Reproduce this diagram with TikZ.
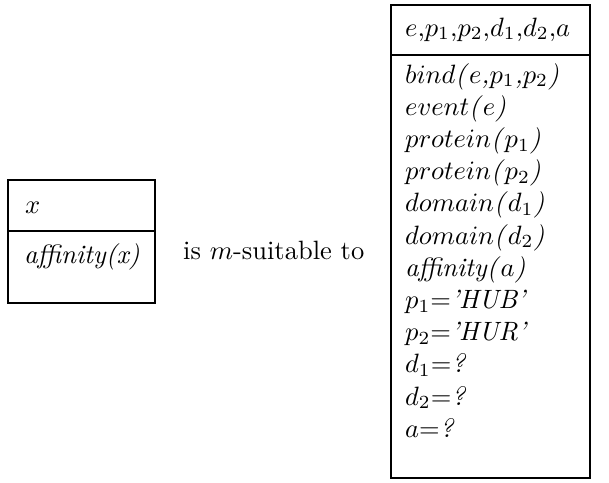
\documentclass[tikz,border=0pt]{standalone}
\newcommand{\bigtxt}[1]{\scalebox{2.65}{#1}}
\begin{document}
\begin{tikzpicture}[x=1pt,y=-1pt,
  boxline/.style={line width=2.2pt},
  divline/.style={line width=1.7pt},
  txt/.style={anchor=base west,inner sep=0pt,font=\fontsize{10}{12}\selectfont}]
\useasboundingbox (0,0) rectangle (609,482);
% left box
\draw[boxline] (8,180) rectangle (155,303);
\draw[divline] (8,231) -- (155,231);
\node[txt] (lx) at (25,213) {\bigtxt{$x$}};
\node[txt] (laff) at (24,263) {\bigtxt{\textit{affinity(x)}}};
% middle text
\node[txt] (mid) at (183,259) {\bigtxt{is $m$-suitable to}};
% right box
\draw[boxline] (391,5) rectangle (590,478);
\draw[divline] (391,55) -- (590,55);
\node[txt] (hdr) at (405,36) {\bigtxt{$e$,$p_1$,$p_2$,$d_1$,$d_2$,$a$}};
\node[txt] (r1) at (405,83) {\bigtxt{$bind$\textit{(}$e$\textit{,}$p_1$\textit{,}$p_2$\textit{)}}};
\node[txt] (r2) at (405,115.2) {\bigtxt{$event$\textit{(}$e$\textit{)}}};
\node[txt] (r3) at (405,147.4) {\bigtxt{$protein$\textit{(}$p_1$\textit{)}}};
\node[txt] (r4) at (405,179.6) {\bigtxt{$protein$\textit{(}$p_2$\textit{)}}};
\node[txt] (r5) at (405,211.8) {\bigtxt{$domain$\textit{(}$d_1$\textit{)}}};
\node[txt] (r6) at (405,244) {\bigtxt{$domain$\textit{(}$d_2$\textit{)}}};
\node[txt] (r7) at (405,276.2) {\bigtxt{\textit{affinity(}$a$\textit{)}}};
\node[txt] (r8) at (405,308.4) {\bigtxt{$p_1$=\textit{'HUB'}}};
\node[txt] (r9) at (405,340.6) {\bigtxt{$p_2$=\textit{'HUR'}}};
\node[txt] (r10) at (405,372.8) {\bigtxt{$d_1$=\textit{?}}};
\node[txt] (r11) at (405,405) {\bigtxt{$d_2$=\textit{?}}};
\node[txt] (r12) at (405,437.2) {\bigtxt{$a$=\textit{?}}};
\end{tikzpicture}
\end{document}
